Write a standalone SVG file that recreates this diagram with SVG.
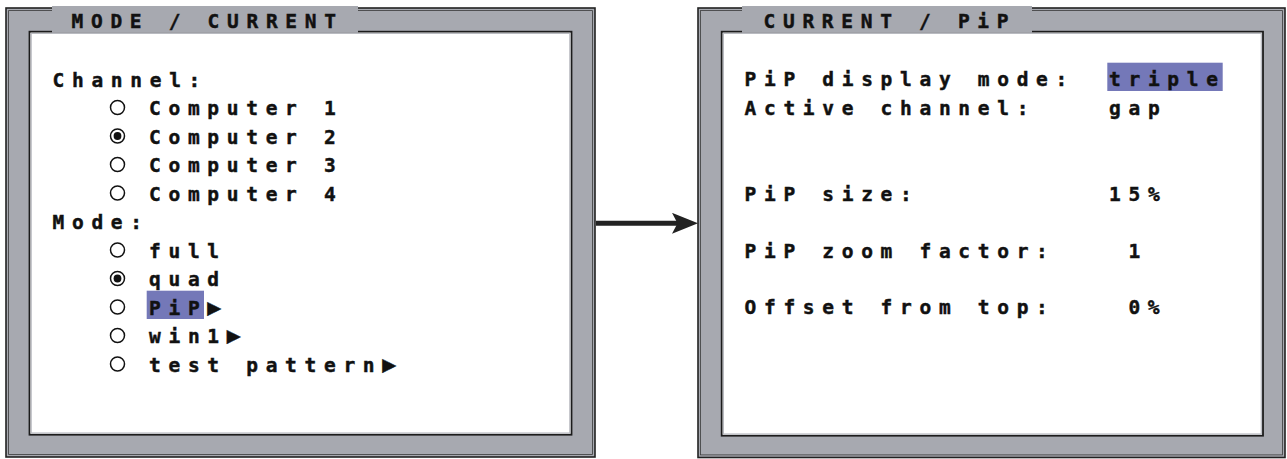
<svg xmlns="http://www.w3.org/2000/svg" width="1287" height="459" viewBox="0 0 1287 459">
  <style>
    .frame { fill: #a7a9b0; stroke: #222; stroke-width: 1.6; }
    .frame2 { fill: none; stroke: #3a3a3a; stroke-width: 0.8; }
    .inner { fill: #ffffff; stroke: #1c1c1c; stroke-width: 1.8; }
    .inner2 { fill: none; stroke: #b9bbc1; stroke-width: 1.2; }
    .tab { fill: #a7a9b0; }
    .hl { fill: #7478b8; }
    .t { font-family: "DejaVu Sans Mono", "Liberation Mono", monospace; font-weight: bold; font-size: 19.5px; letter-spacing: 7.7px; fill: #111; stroke: #111; stroke-width: 0.45; }
    .tri { font-size: 23px; }
    .radio { fill: #fff; stroke: #111; stroke-width: 1.5; }
    .dot { fill: #111; }
    .conn { stroke: #222; stroke-width: 5; fill: none; }
  </style>
  <defs>
    <marker id="ah" markerUnits="userSpaceOnUse" markerWidth="27" markerHeight="22" refX="8" refY="10.5" orient="auto">
      <path d="M0,0 L26,10.5 L0,21 L5.5,10.5 Z" fill="#222"/>
    </marker>
  </defs>

  <g id="connectors">
    <path class="conn" d="M596,223.3 L680,223.3" marker-end="url(#ah)"/>
  </g>

  <g id="mode-current">
    <rect class="frame" x="6" y="8" width="589" height="449"/>
    <rect class="frame2" x="8.6" y="10.6" width="583.8" height="443.8"/>
    <rect class="inner" x="29.5" y="31.7" width="542" height="403"/>
    <rect class="inner2" x="31.2" y="33.4" width="538.6" height="399.6"/>
    <rect class="tab" x="52" y="6" width="306" height="26.8"/>
    <text class="t" x="71.5" y="28">MODE / CURRENT</text>
    <text class="t" x="52.5" y="86.5">Channel:</text>
    <circle class="radio" cx="117.5" cy="107.5" r="7"/>
    <text class="t" x="149" y="115">Computer 1</text>
    <circle class="radio" cx="117.5" cy="136" r="7"/>
    <circle class="dot" cx="117.5" cy="136" r="3.9"/>
    <text class="t" x="149" y="143.5">Computer 2</text>
    <circle class="radio" cx="117.5" cy="164.5" r="7"/>
    <text class="t" x="149" y="172">Computer 3</text>
    <circle class="radio" cx="117.5" cy="193" r="7"/>
    <text class="t" x="149" y="200.5">Computer 4</text>
    <text class="t" x="52.5" y="229">Mode:</text>
    <circle class="radio" cx="117.5" cy="250" r="7"/>
    <text class="t" x="149" y="257.5">full</text>
    <circle class="radio" cx="117.5" cy="278.5" r="7"/>
    <circle class="dot" cx="117.5" cy="278.5" r="3.9"/>
    <text class="t" x="149" y="286">quad</text>
    <circle class="radio" cx="117.5" cy="307" r="7"/>
    <rect class="hl" x="146.7" y="290.7" width="57.3" height="28.3"/>
    <text class="t" x="149" y="314.5">PiP<tspan class="tri">▶</tspan></text>
    <circle class="radio" cx="117.5" cy="335.5" r="7"/>
    <text class="t" x="149" y="343">win1<tspan class="tri">▶</tspan></text>
    <circle class="radio" cx="117.5" cy="364" r="7"/>
    <text class="t" x="149" y="371.5">test pattern<tspan class="tri">▶</tspan></text>
  </g>

  <g id="current-pip">
    <rect class="frame" x="698" y="8" width="587" height="449.5"/>
    <rect class="frame2" x="700.6" y="10.6" width="581.8" height="444.3"/>
    <rect class="inner" x="721.7" y="31.7" width="541.3" height="404"/>
    <rect class="inner2" x="723.4" y="33.4" width="537.9" height="400.6"/>
    <rect class="tab" x="742" y="6" width="290" height="26.8"/>
    <text class="t" x="763.5" y="28">CURRENT / PiP</text>
    <rect class="hl" x="1107.3" y="62.7" width="115.4" height="28.3"/>
    <text class="t" x="744.5" y="86">PiP display mode:</text>
    <text class="t" x="1109" y="86">triple</text>
    <text class="t" x="744.5" y="115">Active channel:</text>
    <text class="t" x="1109" y="115">gap</text>
    <text class="t" x="744.5" y="200.5">PiP size:</text>
    <text class="t" x="1109" y="200.5">15%</text>
    <text class="t" x="744.5" y="257.5">PiP zoom factor:</text>
    <text class="t" x="1128.4" y="257.5">1</text>
    <text class="t" x="744.5" y="314">Offset from top:</text>
    <text class="t" x="1128.4" y="314">0%</text>
  </g>
</svg>
